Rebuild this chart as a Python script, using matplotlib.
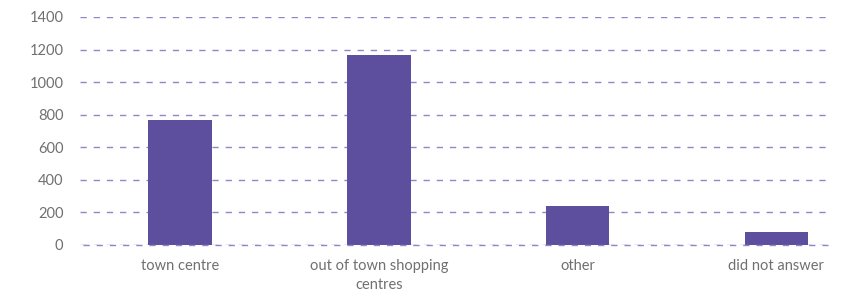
import matplotlib.pyplot as plt

categories = ['town centre', 'out of town shopping\ncentres', 'other', 'did not answer']
values = [770, 1165, 240, 80]
yticks = [0, 200, 400, 600, 800, 1000, 1200, 1400]

plt.rcParams['font.family'] = ['Lato', 'DejaVu Sans']

fig = plt.figure(figsize=(8.48, 2.95), dpi=100)
ax = fig.add_axes([80 / 848, 1 - 245 / 295, 748 / 848, 228 / 295])

x = range(len(categories))
ax.bar(x, values, width=0.32, color='#5e4e9e', zorder=3)

ax.set_ylim(0, 1400)
ax.set_xlim(-0.503, 3.26)
ax.set_yticks(yticks)
ax.set_xticks(list(x))
ax.set_xticklabels(categories, linespacing=1.5)
ax.grid(axis='y', color='#8f86c8', linestyle=(0, (4.5, 5)), linewidth=1, zorder=0)
# baseline sits on the axes edge, draw it unclipped over the bars
ax.axhline(0, xmin=0.004, color='#8f86c8', linestyle=(0, (4.5, 5)),
           linewidth=1, zorder=4, clip_on=False)

for s in ax.spines.values():
    s.set_visible(False)
ax.tick_params(length=0, labelsize=10.5, colors='#707070', pad=10)
ax.tick_params(axis='y', pad=12)

fig.savefig('out.png', dpi=100)
